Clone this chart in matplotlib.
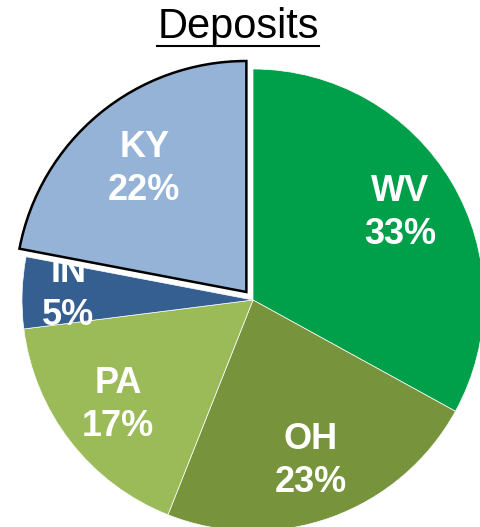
import matplotlib.pyplot as plt
from matplotlib.lines import Line2D

states = ["WV", "OH", "PA", "IN", "KY"]
shares = [33, 23, 17, 5, 22]
colors = ["#00A04A", "#77933C", "#9BBB59", "#355E91", "#95B3D7"]
explode = [0, 0, 0, 0, 0.045]

W, H = 481, 527
fig = plt.figure(figsize=(W / 100, H / 100), dpi=100)
R = 231
cx, cy = 253, 300
ax = fig.add_axes([(cx - R) / W, (H - cy - R) / H, 2 * R / W, 2 * R / H])

labels = [f"{s}\n{v}%" for s, v in zip(states, shares)]
wedges, texts = ax.pie(shares, colors=colors, explode=explode, startangle=90,
                       counterclock=False, labels=labels, labeldistance=0.74,
                       wedgeprops=dict(edgecolor="white", linewidth=0.5),
                       textprops=dict(color="white", fontsize=26, fontweight="bold",
                                      family="Liberation Sans"))
for t in texts:
    t.set_ha("center")
    t.set_va("center")
    t.set_linespacing(1.3)

# Kentucky slice is pulled out and outlined
wedges[4].set_edgecolor("black")
wedges[4].set_linewidth(1.8)
wedges[4].set_zorder(3)

# nudge a couple of labels to where they sit in the original
x, y = texts[3].get_position()
texts[3].set_position((x * 1.08, y * 1.08))
texts[3].set_zorder(2)
x, y = texts[4].get_position()
texts[4].set_position((x * 0.94, y * 0.94))

ax.set_xlim(-1, 1)
ax.set_ylim(-1, 1)
ax.set_aspect("equal")
ax.axis("off")

title = fig.text(238 / W, 1 - 27 / H, "Deposits", ha="center", va="center",
                 fontsize=30, family="Liberation Sans")
fig.canvas.draw()
bb = title.get_window_extent()
fig.add_artist(Line2D([bb.x0 / W, bb.x1 / W], [(bb.y0 + 1) / H] * 2,
                      color="black", linewidth=1.5))

fig.savefig("out.png", dpi=100)
